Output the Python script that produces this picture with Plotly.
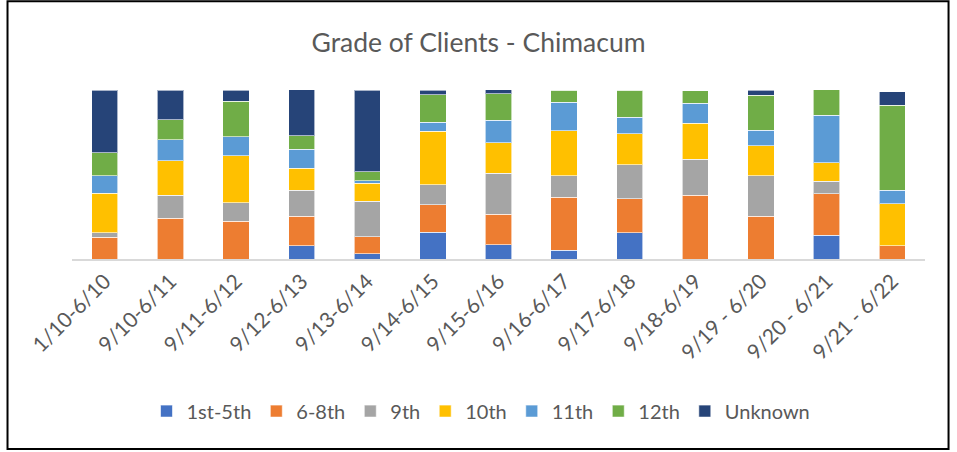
import plotly.graph_objects as go

# periodos (eixo x)
periodos = ["1/10-6/10", "9/10-6/11", "9/11-6/12", "9/12-6/13", "9/13-6/14",
            "9/14-6/15", "9/15-6/16", "9/16-6/17", "9/17-6/18", "9/18-6/19",
            "9/19 - 6/20", "9/20 - 6/21", "9/21 - 6/22"]

# percentuais por serie
g1_5 = [0, 0, 0, 7.7, 3.0, 15.7, 8.3, 5.1, 15.4, 0, 0, 14.2, 0]
g6_8 = [12.8, 24.0, 22.2, 17.7, 10.2, 16.3, 18.1, 31.5, 20.3, 37.8, 25.4, 24.4, 7.7]
g9 = [2.6, 13.8, 11.2, 15.2, 20.9, 12.0, 24.4, 12.8, 20.1, 21.3, 24.0, 7.3, 0]
g10 = [23.6, 20.3, 27.6, 13.2, 10.6, 31.7, 17.9, 26.4, 18.3, 21.3, 17.5, 11.2, 25.0]
g11 = [10.4, 12.6, 11.4, 11.2, 1.6, 5.1, 13.4, 16.9, 9.8, 11.8, 9.3, 28.0, 8.1]
g12 = [13.6, 11.6, 20.9, 7.9, 5.3, 16.5, 15.6, 7.3, 16.1, 7.3, 20.7, 15.0, 50.2]
desconhecido = [37.0, 17.7, 6.7, 27.2, 48.4, 2.6, 2.4, 0, 0, 0, 3.1, 0, 8.1]

series = [
    ("1st-5th", g1_5, "#4472C4"),
    ("6-8th", g6_8, "#ED7D31"),
    ("9th", g9, "#A5A5A5"),
    ("10th", g10, "#FFC000"),
    ("11th", g11, "#5B9BD5"),
    ("12th", g12, "#70AD47"),
    ("Unknown", desconhecido, "#264478"),
]

fig = go.Figure()
for nome, valores, cor in series:
    fig.add_trace(go.Bar(x=periodos, y=valores, name=nome,
                         marker=dict(color=cor, line=dict(color="rgba(255,255,255,0.6)", width=1))))

fonte = "Lato, Carlito, sans-serif"
fig.update_layout(
    barmode="stack",
    bargap=0.6,
    width=957, height=452,
    margin=dict(l=72, r=32, t=90, b=192.5, autoexpand=False),
    plot_bgcolor="white", paper_bgcolor="white",
    font=dict(family=fonte, color="#595959"),
    title=dict(text="Grade of Clients - Chimacum", x=0.5, xanchor="center",
               y=0.905, yanchor="middle", font=dict(size=26.5, color="#595959")),
    xaxis=dict(tickangle=-45, tickfont=dict(size=21, color="#595959"), automargin=False,
               showline=True, linecolor="#D9D9D9", linewidth=1.5, ticks=""),
    yaxis=dict(range=[0, 100], visible=False, automargin=False),
    legend=dict(orientation="h", x=0.4795, xanchor="center", y=-0.90, yanchor="middle",
                font=dict(size=20, color="#595959"), traceorder="normal",
                itemwidth=30),
    showlegend=True,
)

# moldura preta em volta
fig.add_shape(type="rect", xref="paper", yref="paper",
              x0=-0.0756, x1=1.0276, y0=-1.124, y1=1.525,
              line=dict(color="black", width=2))

fig.write_html("out.html", config={"displayModeBar": False},
               post_script="document.body.style.margin='0';")
